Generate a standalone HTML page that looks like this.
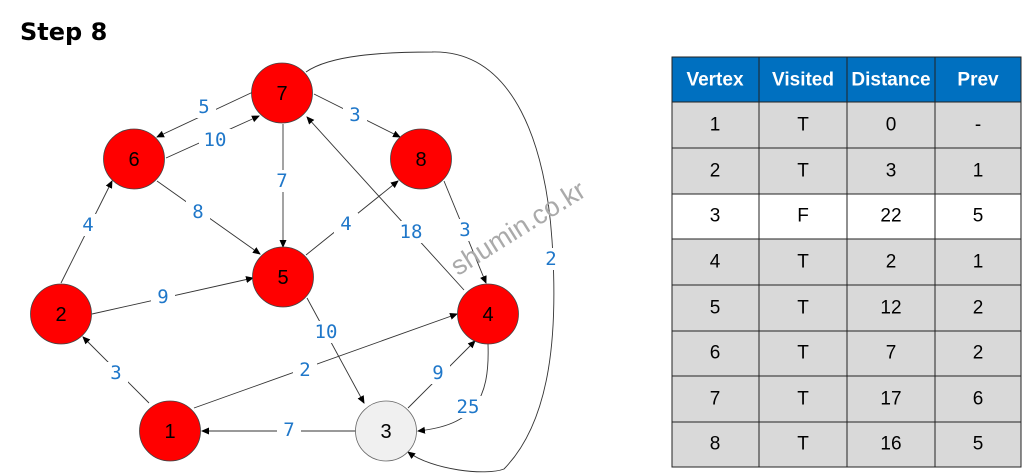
<!DOCTYPE html>
<html><head><meta charset="utf-8"><style>
body{margin:0;background:#fff;width:1024px;height:473px;overflow:hidden}
svg{display:block}
.l{font-family:"DejaVu Sans Mono","Liberation Mono",monospace;font-size:19px;fill:#1f77c9;text-anchor:middle;dominant-baseline:central}
.n{font-family:"Liberation Sans",sans-serif;font-size:20px;fill:#000;text-anchor:middle;dominant-baseline:central}
.t{font-family:"Liberation Sans",sans-serif;font-size:19px;fill:#000;text-anchor:middle;dominant-baseline:central}
.h{font-family:"Liberation Sans",sans-serif;font-size:19px;font-weight:bold;fill:#fff;text-anchor:middle;dominant-baseline:central}
</style></head><body>
<svg width="1024" height="473" viewBox="0 0 1024 473">
<defs><marker id="a" markerWidth="8" markerHeight="8" refX="7" refY="4" orient="auto" markerUnits="userSpaceOnUse"><path d="M0,0.5 L8,4 L0,7.5z" fill="#000"/></marker></defs>
<text x="20" y="32" font-family="DejaVu Sans,Liberation Sans,sans-serif" font-size="24" font-weight="bold" dominant-baseline="central">Step 8</text>
<g stroke="#333" stroke-width="0.9" fill="none" marker-end="url(#a)">
<line x1="253" y1="92" x2="157" y2="137"/>
<line x1="166" y1="158" x2="259" y2="116"/>
<line x1="314" y1="94" x2="400" y2="137"/>
<line x1="283" y1="124" x2="283" y2="247"/>
<line x1="157" y1="181" x2="260" y2="254"/>
<line x1="61" y1="283" x2="112" y2="181"/>
<line x1="92" y1="314" x2="253" y2="278"/>
<line x1="306" y1="255" x2="398" y2="181"/>
<line x1="464" y1="290" x2="307" y2="117"/>
<line x1="444" y1="181" x2="486" y2="283"/>
<line x1="307" y1="298" x2="364" y2="403"/>
<line x1="149" y1="403" x2="83" y2="337"/>
<line x1="194" y1="408" x2="457" y2="314"/>
<line x1="408" y1="408" x2="475" y2="341"/>
<path d="M488,344 C490,400 474,425 418,431"/>
<line x1="356" y1="431" x2="202" y2="431"/>
<path d="M306,72 C330,55 384,52 432,52 C516,50 546,150 552,240 C558,330 552,420 504,469 C486,476 432,470 408,452"/>
</g>
<g stroke="#444" stroke-width="0.8">
<ellipse cx="282" cy="93" rx="30.5" ry="30" fill="#f00"/>
<ellipse cx="134" cy="159" rx="30.5" ry="30" fill="#f00"/>
<ellipse cx="421" cy="159" rx="30.5" ry="30" fill="#f00"/>
<ellipse cx="283" cy="277" rx="30.5" ry="30" fill="#f00"/>
<ellipse cx="61" cy="314" rx="30.5" ry="30" fill="#f00"/>
<ellipse cx="488" cy="314" rx="30.5" ry="30" fill="#f00"/>
<ellipse cx="170" cy="431" rx="30.5" ry="30" fill="#f00"/>
<ellipse cx="386" cy="431" rx="30.5" ry="30" fill="#f0f0f0" stroke="#666"/>
</g>
<text class="n" x="282" y="94">7</text><text class="n" x="134" y="160">6</text><text class="n" x="421" y="160">8</text><text class="n" x="283" y="278">5</text><text class="n" x="61" y="315">2</text><text class="n" x="488" y="315">4</text><text class="n" x="170" y="432">1</text><text class="n" x="386" y="432">3</text>
<g fill="#fff">
<rect x="192" y="96" width="24" height="22"/><rect x="199" y="129" width="32" height="22"/><rect x="343" y="104" width="24" height="22"/><rect x="270" y="170" width="24" height="22"/><rect x="186" y="201" width="24" height="22"/><rect x="76" y="214" width="24" height="22"/><rect x="334" y="213" width="24" height="22"/><rect x="395" y="221" width="32" height="22"/><rect x="453" y="219" width="24" height="22"/><rect x="539" y="248" width="24" height="22"/><rect x="151" y="286" width="24" height="22"/><rect x="310" y="321" width="32" height="22"/><rect x="104" y="362" width="24" height="22"/><rect x="293" y="359" width="24" height="22"/><rect x="426" y="362" width="24" height="22"/><rect x="452" y="396" width="32" height="22"/><rect x="277" y="419" width="24" height="22"/>
</g>
<text class="l" x="204" y="107">5</text><text class="l" x="215" y="140">10</text><text class="l" x="355" y="115">3</text><text class="l" x="282" y="181">7</text><text class="l" x="198" y="212">8</text><text class="l" x="88" y="225">4</text><text class="l" x="346" y="224">4</text><text class="l" x="411" y="232">18</text><text class="l" x="465" y="230">3</text><text class="l" x="551" y="259">2</text><text class="l" x="163" y="297">9</text><text class="l" x="326" y="332">10</text><text class="l" x="116" y="373">3</text><text class="l" x="305" y="370">2</text><text class="l" x="438" y="373">9</text><text class="l" x="468" y="407">25</text><text class="l" x="289" y="430">7</text>
<text x="518" y="228" transform="rotate(-32 518 228)" font-family="Liberation Sans,sans-serif" font-size="27" fill="#aaa" text-anchor="middle" dominant-baseline="central">shumin.co.kr</text>
<g stroke="#222" stroke-width="1">
<rect x="672" y="57" width="349" height="45" fill="#0070c0"/>
<rect x="672" y="102" width="349" height="92" fill="#d9d9d9"/>
<rect x="672" y="194" width="349" height="45" fill="#fff"/>
<rect x="672" y="239" width="349" height="228" fill="#d9d9d9"/>
<line x1="759" y1="57" x2="759" y2="467"/><line x1="847" y1="57" x2="847" y2="467"/><line x1="935" y1="57" x2="935" y2="467"/>
<line x1="672" y1="148" x2="1021" y2="148"/><line x1="672" y1="285" x2="1021" y2="285"/><line x1="672" y1="331" x2="1021" y2="331"/><line x1="672" y1="376" x2="1021" y2="376"/><line x1="672" y1="422" x2="1021" y2="422"/>
</g>
<text class="h" x="715" y="80">Vertex</text><text class="h" x="803" y="80">Visited</text><text class="h" x="891" y="80">Distance</text><text class="h" x="978" y="80">Prev</text>
<text class="t" x="715" y="125">1</text><text class="t" x="803" y="125">T</text><text class="t" x="891" y="125">0</text><text class="t" x="978" y="125">-</text>
<text class="t" x="715" y="171">2</text><text class="t" x="803" y="171">T</text><text class="t" x="891" y="171">3</text><text class="t" x="978" y="171">1</text>
<text class="t" x="715" y="216">3</text><text class="t" x="803" y="216">F</text><text class="t" x="891" y="216">22</text><text class="t" x="978" y="216">5</text>
<text class="t" x="715" y="262">4</text><text class="t" x="803" y="262">T</text><text class="t" x="891" y="262">2</text><text class="t" x="978" y="262">1</text>
<text class="t" x="715" y="308">5</text><text class="t" x="803" y="308">T</text><text class="t" x="891" y="308">12</text><text class="t" x="978" y="308">2</text>
<text class="t" x="715" y="353">6</text><text class="t" x="803" y="353">T</text><text class="t" x="891" y="353">7</text><text class="t" x="978" y="353">2</text>
<text class="t" x="715" y="399">7</text><text class="t" x="803" y="399">T</text><text class="t" x="891" y="399">17</text><text class="t" x="978" y="399">6</text>
<text class="t" x="715" y="444">8</text><text class="t" x="803" y="444">T</text><text class="t" x="891" y="444">16</text><text class="t" x="978" y="444">5</text>
</svg>
</body></html>
